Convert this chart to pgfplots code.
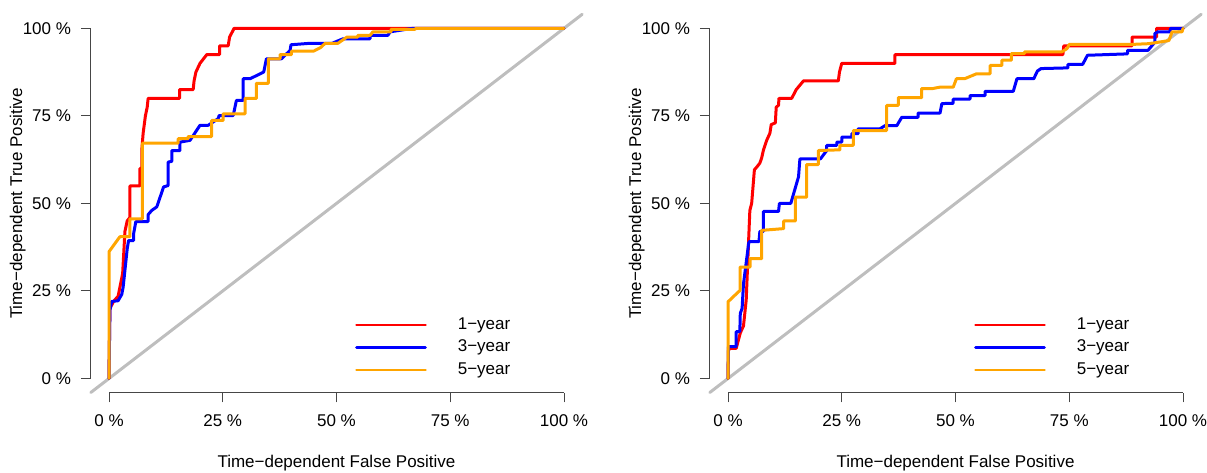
\documentclass[border=0pt]{standalone}
\usepackage{fontspec}
\setmainfont{Liberation Sans}
\usepackage{pgfplots}
\pgfplotsset{compat=1.18}
\definecolor{rred}{RGB}{255,0,0}
\definecolor{rblue}{RGB}{0,0,255}
\definecolor{rorange}{RGB}{255,165,0}
\definecolor{rgray}{RGB}{190,190,190}
\definecolor{axgray}{RGB}{70,70,70}
\pgfplotsset{
 rocaxis/.style={
  scale only axis, width=491.4bp, height=378.2bp,
  xmin=-0.04, xmax=1.04, ymin=-0.04, ymax=1.04,
  axis x line*=bottom, axis y line*=left,
  axis line style={axgray, line width=0.9bp},
  x axis line style={-, shorten <=18.2bp, shorten >=18.2bp},
  y axis line style={-, shorten <=14bp, shorten >=14bp},
  tick align=outside, major tick length=10bp,
  tick style={axgray, line width=0.9bp},
  xtick={0,0.25,0.5,0.75,1}, ytick={0,0.25,0.5,0.75,1},
  xticklabels={0 \%,25 \%,50 \%,75 \%,100 \%},
  yticklabels={0 \%,25 \%,50 \%,75 \%,100 \%},
  xticklabel style={yshift=-8.5bp},
  yticklabel style={xshift=-6.3bp},
  xlabel={Time−dependent False Positive},
  ylabel={Time−dependent True Positive},
  xlabel style={at={([yshift=-70.5bp]axis description cs:0.5,0)}, anchor=center},
  ylabel style={at={([xshift=-73bp]axis description cs:0,0.5)}, anchor=center},
  clip=false,
  legend style={at={(axis cs:0.534,0.181)}, anchor=north west, draw=none, fill=none,
    row sep=7bp, nodes={inner sep=0pt, text height=12bp, text depth=3.5bp},
    /tikz/every odd column/.append style={column sep=31bp}},
  legend cell align=left,
  legend image code/.code={\draw[#1, line width=2.7bp] (0bp,0bp) -- (69bp,0bp);},
  every axis plot/.append style={line width=3bp, line join=round, line cap=round},
 }
}
\begin{document}
\begin{tikzpicture}[font=\fontsize{17bp}{20bp}\selectfont]
\useasboundingbox (0,0) rectangle (1207bp,473bp);
% ---------------- left panel ----------------
\begin{axis}[rocaxis, at={(90.8bp,80.5bp)}, anchor=south west]
\addplot[rgray, forget plot] coordinates {(-0.04,-0.04) (1.04,1.04)};
\addplot[rred] coordinates {
(0,0) (0.002,0.20) (0.01,0.22) (0.02,0.235) (0.03,0.30) (0.035,0.42) (0.04,0.45)
(0.046,0.46) (0.046,0.55) (0.068,0.55) (0.068,0.6) (0.072,0.6) (0.072,0.65)
(0.075,0.70) (0.08,0.75) (0.084,0.775) (0.086,0.8) (0.155,0.8) (0.155,0.825)
(0.185,0.825) (0.187,0.85) (0.191,0.875) (0.2,0.9) (0.215,0.925) (0.243,0.925)
(0.243,0.95) (0.262,0.95) (0.265,0.975) (0.275,1) (1,1)};
\addlegendentry{1−year}
\addplot[rblue] coordinates {
(0,0) (0.002,0.195) (0.006,0.22) (0.02,0.222) (0.028,0.24) (0.031,0.26) (0.04,0.37)
(0.043,0.394) (0.054,0.394) (0.054,0.413) (0.059,0.448) (0.086,0.448) (0.086,0.468)
(0.094,0.48) (0.105,0.49) (0.12,0.547) (0.13,0.551) (0.13,0.618) (0.138,0.62)
(0.138,0.651) (0.156,0.651) (0.156,0.675) (0.178,0.68) (0.2,0.723) (0.218,0.723)
(0.24,0.742) (0.242,0.751) (0.273,0.751) (0.28,0.794) (0.295,0.794) (0.295,0.856)
(0.31,0.856) (0.34,0.875) (0.346,0.913) (0.379,0.913) (0.398,0.937) (0.40,0.953)
(0.44,0.957) (0.49,0.957) (0.514,0.97) (0.574,0.97) (0.574,0.98) (0.613,0.98)
(0.618,0.99) (0.668,1) (1,1)};
\addlegendentry{3−year}
\addplot[rorange] coordinates {
(0,0) (0,0.362) (0.024,0.405) (0.046,0.405) (0.046,0.456) (0.0735,0.456)
(0.0735,0.672) (0.152,0.672) (0.152,0.685) (0.174,0.685) (0.174,0.691)
(0.2256,0.691) (0.2256,0.737) (0.251,0.737) (0.251,0.756) (0.299,0.756)
(0.299,0.80) (0.324,0.80) (0.324,0.843) (0.350,0.843) (0.350,0.913) (0.376,0.913)
(0.376,0.925) (0.401,0.925) (0.401,0.935) (0.45,0.935) (0.465,0.945) (0.475,0.957)
(0.503,0.957) (0.523,0.975) (0.547,0.975) (0.547,0.98) (0.574,0.98) (0.58,0.99)
(0.62,0.99) (0.62,0.997) (0.672,0.997) (0.675,1) (1,1)};
\addlegendentry{5−year}
\end{axis}
% ---------------- right panel ----------------
\begin{axis}[rocaxis, at={(709.8bp,80.5bp)}, anchor=south west]
\addplot[rgray, forget plot] coordinates {(-0.04,-0.04) (1.04,1.04)};
\addplot[rred] coordinates {
(0,0) (0.001,0.08) (0.004,0.086) (0.018,0.086) (0.027,0.13) (0.034,0.15) (0.04,0.224)
(0.048,0.48) (0.052,0.5) (0.058,0.596) (0.064,0.605) (0.07,0.615) (0.074,0.63)
(0.078,0.653) (0.085,0.68) (0.092,0.70) (0.095,0.725) (0.104,0.73) (0.106,0.775)
(0.111,0.78) (0.112,0.8) (0.14,0.8) (0.15,0.825) (0.166,0.85) (0.2425,0.85)
(0.245,0.875) (0.25,0.9) (0.367,0.9) (0.367,0.925) (0.736,0.925) (0.738,0.95)
(0.888,0.95) (0.888,0.975) (0.942,0.975) (0.942,1) (1,1)};
\addlegendentry{1−year}
\addplot[rblue] coordinates {
(0,0) (0.001,0.091) (0.018,0.091) (0.018,0.134) (0.026,0.134) (0.027,0.186)
(0.031,0.20) (0.034,0.27) (0.0455,0.387) (0.047,0.391) (0.068,0.391) (0.07,0.42)
(0.078,0.42) (0.078,0.477) (0.111,0.477) (0.113,0.5) (0.138,0.5) (0.155,0.576)
(0.158,0.627) (0.203,0.627) (0.217,0.651) (0.217,0.666) (0.239,0.666) (0.239,0.675)
(0.25,0.675) (0.25,0.689) (0.272,0.689) (0.272,0.699) (0.286,0.699) (0.286,0.713)
(0.334,0.713) (0.345,0.722) (0.371,0.722) (0.382,0.746) (0.418,0.746) (0.418,0.758)
(0.466,0.758) (0.47,0.785) (0.495,0.786) (0.495,0.798) (0.532,0.798) (0.532,0.808)
(0.565,0.808) (0.565,0.82) (0.627,0.82) (0.635,0.856) (0.672,0.856) (0.68,0.878)
(0.688,0.885) (0.747,0.887) (0.747,0.897) (0.7795,0.897) (0.79,0.923) (0.878,0.927)
(0.878,0.937) (0.923,0.937) (0.938,0.96) (0.938,0.985) (0.945,0.99) (0.971,0.99)
(0.973,1.0) (1,1)};
\addlegendentry{3−year}
\addplot[rorange] coordinates {
(0,0) (0,0.219) (0.0234,0.248) (0.0264,0.251) (0.0264,0.318) (0.0484,0.318)
(0.0484,0.342) (0.074,0.342) (0.074,0.423) (0.1223,0.428) (0.1223,0.45) (0.148,0.45)
(0.148,0.518) (0.1729,0.518) (0.1729,0.611) (0.1985,0.611) (0.1985,0.651)
(0.2461,0.653) (0.2461,0.666) (0.2754,0.666) (0.2754,0.708) (0.3487,0.708)
(0.3487,0.78) (0.3743,0.78) (0.3743,0.802) (0.4256,0.802) (0.4256,0.828) (0.45,0.828)
(0.466,0.832) (0.495,0.832) (0.502,0.856) (0.52,0.856) (0.546,0.87) (0.576,0.87)
(0.576,0.894) (0.602,0.894) (0.602,0.909) (0.623,0.909) (0.623,0.928) (0.652,0.928)
(0.652,0.933) (0.734,0.933) (0.745,0.942) (0.75,0.954) (0.888,0.954) (0.923,0.956)
(0.935,0.958) (0.969,0.965) (0.976,0.99) (0.998,0.99) (1,1)};
\addlegendentry{5−year}
\end{axis}
\end{tikzpicture}
\end{document}
